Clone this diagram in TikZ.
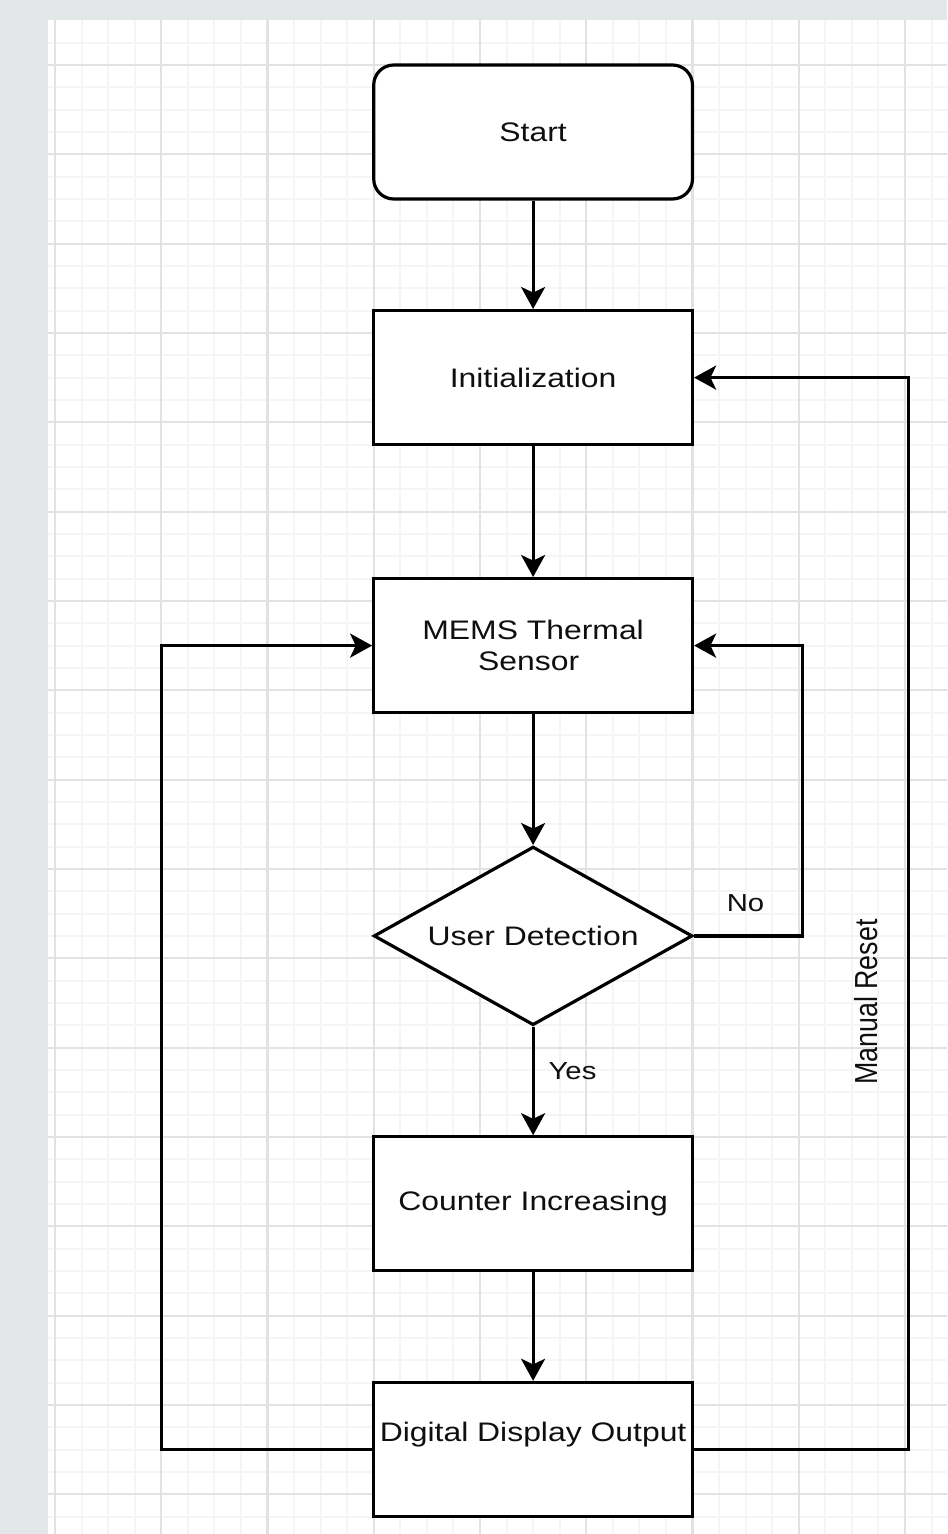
\documentclass[tikz,border=0pt]{standalone}
\usepackage{fontspec}
\setmainfont{Liberation Sans}
\newfontfamily\stretchfont[FakeStretch=1.19]{Liberation Sans}
\usetikzlibrary{shapes.geometric,arrows.meta}
\definecolor{bggray}{RGB}{227,231,232}
\definecolor{majorgrid}{RGB}{226,226,226}
\definecolor{minorgrid}{RGB}{245,245,245}
\definecolor{inkcol}{RGB}{15,15,15}
\newcommand{\boxfont}{\stretchfont\fontsize{13.4}{15.5}\selectfont}
\newcommand{\lblfont}{\stretchfont\fontsize{12.3}{14}\selectfont}
\begin{document}
\begin{tikzpicture}[x=0.5pt,y=-0.5pt,
  box/.style={draw=black,line width=1.6pt,fill=white,minimum width=159.375pt,
    minimum height=67pt,inner sep=0pt,font=\boxfont,text=inkcol},
  startbox/.style={box,rounded corners=10pt},
  decbox/.style={diamond,draw=black,line width=1.6pt,fill=white,minimum width=159.375pt,
    minimum height=89.3pt,inner sep=0pt},
  arr/.style={draw=black,line width=1.6pt,-{Stealth[length=11pt,width=12pt,inset=2.8pt]}},
  lbl/.style={font=\lblfont,text=inkcol,inner sep=0pt},
  majorline/.style={draw=majorgrid,line width=1.1pt},
  minorline/.style={draw=minorgrid,line width=1pt}
]
\useasboundingbox (0,0) rectangle (947,1534);
\fill[bggray] (0,0) rectangle (947,1534);
\fill[white] (48,20) rectangle (947,1534);
\begin{scope}
\clip (48,20) rectangle (947,1534);
\foreach \i in {0,...,34} \draw[minorline] ({55+26.5625*\i},20) -- ({55+26.5625*\i},1534);
\foreach \i in {-1,...,66} \draw[minorline] (48,{65+22.333*\i}) -- (947,{65+22.333*\i});
\foreach \i in {0,...,8} \draw[majorline] ({55+106.25*\i},20) -- ({55+106.25*\i},1534);
\foreach \i in {0,...,16} \draw[majorline] (48,{65+89.333*\i}) -- (947,{65+89.333*\i});
\end{scope}

\node[startbox] (start) at (533.1,132) {Start};
\node[box] (init) at (533.1,377.6) {Initialization};
\node[box,align=center] (mems) at (533.1,645.6) {MEMS Thermal\\Sensor\hspace*{4.45pt}};
\node[decbox,label={[font=\boxfont,text=inkcol]center:User Detection}] (det) at (533.1,935.9) {};
\node[box] (count) at (533.1,1203.8) {Counter Increasing};
\node[box,label={[font=\boxfont,text=inkcol,yshift=7.25pt]center:Digital Display Output}] (disp) at (533.1,1449.4) {};

\draw[arr] (start) -- (init);
\draw[arr] (init) -- (mems);
\draw[arr] (mems) -- (det);
\draw[arr] (det) -- (count);
\draw[arr] (count) -- (disp);
\draw[arr] (det.east) -| ([xshift=54.25pt]mems.east) -- (mems.east);
\draw[arr] (disp.west) -| ([xshift=-105.4pt]mems.west) -- (mems.west);
\draw[arr] (disp.east) -| ([xshift=107.25pt]init.east) -- (init.east);

\node[lbl] (no) at (745.5,903) {No};
\node[lbl] (yes) at (572.5,1071) {Yes};
\node[text=inkcol,inner sep=0pt,rotate=90,font=\fontsize{13.4}{15.5}\selectfont] (reset) at (866,1002) {\scalebox{1}[1.19]{Manual Reset}};
\end{tikzpicture}
\end{document}
